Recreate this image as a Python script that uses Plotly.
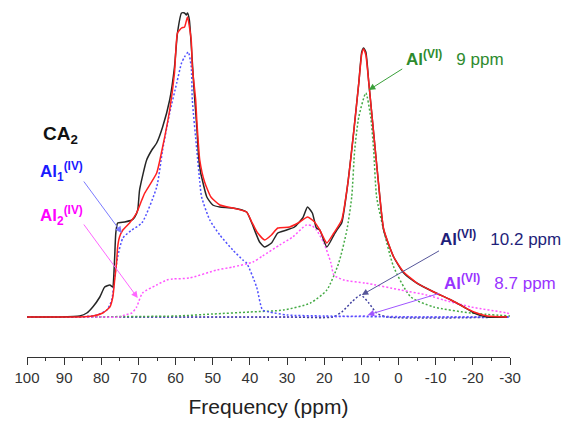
import plotly.graph_objects as go

# ---------------- data (ppm, intensity in arbitrary units) ----------------
exp_ppm = [100, 91.2, 85.8, 83.9, 82.3, 80.4, 79.1, 77.7, 76.9, 76.7, 76.4, 76.1, 75.6, 73.7, 71.8, 71.0,
           70.2, 69.7, 67.8, 66.4, 65.1, 63.5, 61.6, 60.3, 59.5, 58.4, 57.6, 57.1, 56.8, 56.3, 55.5, 55.0,
           54.3, 53.8, 53.3, 53.0, 51.6, 50.0, 48.1, 44.6, 40.9, 39.5, 37.4, 36.0, 34.2, 32.5, 30.1, 28.0,
           25.8, 24.5, 23.2, 22.1, 21.2, 19.3, 17.4, 16.6, 15.3, 13.6, 12.1, 10.7, 9.9, 9.4, 8.8, 8.0,
           6.7, 5.4, 4.0, 1.3, -1.4, -4.9, -9.5, -14.1, -17.6, -20.3, -23.8, -29.2]
exp_int = [0, 0, 1, 4, 10, 20, 30, 32, 30, 37, 60, 84, 94, 95, 97, 100,
           107, 127, 157, 167, 174, 190, 217, 250, 284, 304, 304, 302, 304, 297, 255, 225,
           190, 160, 145, 140, 120, 112, 110, 109, 105, 94, 75, 70, 74, 84, 87, 90,
           99, 110, 104, 89, 87, 70, 82, 87, 94, 135, 184, 234, 265, 269, 265, 234,
           184, 134, 87, 60, 44, 34, 25, 17, 10, 4, 0, 0]

fit_ppm = [100, 85.8, 82.3, 79.6, 77.7, 76.9, 76.4, 75.9, 75.6, 75.1, 74.2, 72.4, 70.5, 69.1, 68.3,
           65.1, 63.5, 61.6, 60.3, 59.5, 58.4, 57.6, 56.8, 55.8, 55.5, 54.6, 54.3, 53.5, 52.2, 50.5,
           48.1, 44.6, 40.9, 39.5, 37.9, 36.0, 34.2, 32.5, 29.3, 26.6, 24.5, 22.6, 21.2, 19.3, 17.4,
           15.3, 13.6, 12.1, 10.7, 9.9, 9.4, 8.8, 8.0, 6.7, 5.4, 4.0, 1.3, -1.4, -4.9, -9.5, -14.1,
           -17.6, -20.3, -23.8, -29.2]
fit_int = [0, 0, 1, 4, 10, 20, 37, 54, 70, 80, 87, 94, 104, 117, 124,
           144, 170, 207, 244, 284, 289, 290, 300, 277, 250, 217, 197, 157, 135, 120,
           112, 109, 105, 95, 84, 77, 82, 89, 90, 95, 100, 95, 87, 74, 84,
           97, 135, 184, 234, 263, 268, 262, 234, 184, 134, 88, 60, 45, 34, 25, 17,
           10, 5, 1, 0]

al1_ppm = [100, 85.8, 81.2, 78.5, 77.2, 76.4, 75.6, 74.2, 71.8, 69.1, 65.1, 63.5, 61.6, 59.7, 58.4,
           57.6, 56.6, 55.8, 55.5, 54.3, 53.5, 53.0, 50.8, 48.1, 44.6, 41.9, 40.9, 38.2, 36.6, 34.7,
           30, 20, 0, -30]
al1_int = [0, 0, 2, 7, 17, 40, 60, 79, 87, 94, 130, 167, 204, 234, 254,
           260, 265, 250, 217, 167, 135, 120, 97, 82, 67, 57, 54, 30, 7, 5,
           2, 1, 0, 0]

al2_ppm = [100, 80, 75.1, 73.7, 71.8, 70.5, 68.9, 65.1, 62.4, 60.8, 56.3, 48.9, 44.6, 39.2, 36.6,
           32.0, 28.5, 24.8, 23.2, 22.1, 20.1, 18.2, 17.4, 14.7, 9.0, -0.6, -7.6, -12.2, -19.5, -29.2,
           -30]
al2_int = [0, 0, 0, 2, 4, 10, 24, 32, 37, 38, 39, 47, 50, 55, 61,
           72, 80, 92, 91, 87, 74, 54, 42, 37, 34, 27, 22, 17, 10, 4,
           3]

vi9_ppm = [100, 60, 50, 40, 30.9, 23.7, 19.3, 16.1, 13.9, 12.6, 11.8, 10.7, 8.8, 7.5, 6.7,
           5.9, 4.0, 1.3, -3.3, -9.5, -19.5, -30]
vi9_int = [0, 1, 3, 5, 7, 14, 27, 54, 87, 120, 167, 200, 224, 200, 167,
           120, 87, 50, 20, 10, 4, 1]

vi10_ppm = [100, 30, 17.7, 15.3, 12.6, 10.2, 8.0, 5.9, 3.2, -30]
vi10_int = [0, 0, 0, 5, 15, 22, 14, 4, 0, 0]

vi87_ppm = [100, 20, 8.7, -5, -30]
vi87_int = [0, 0, 1, 0, 0]

x_ticks = [100, 90, 80, 70, 60, 50, 40, 30, 20, 10, 0, -10, -20, -30]

FONT = "Liberation Sans, Arial, sans-serif"

fig = go.Figure()

dotted = "2px,2px"
for xs, ys, col in [
    (vi87_ppm, vi87_int, "#a070ff"),
    (vi10_ppm, vi10_int, "#4040a0"),
    (vi9_ppm, vi9_int, "#44aa44"),
    (al2_ppm, al2_int, "#ff55ff"),
    (al1_ppm, al1_int, "#5050ff"),
]:
    fig.add_trace(go.Scatter(x=xs, y=ys, mode="lines",
                             line=dict(color=col, width=1.5, dash=dotted, shape="spline", smoothing=0.6),
                             showlegend=False, hoverinfo="skip"))

fig.add_trace(go.Scatter(x=exp_ppm, y=exp_int, mode="lines",
                         line=dict(color="#262626", width=1.5, shape="spline", smoothing=0.5),
                         showlegend=False))
fig.add_trace(go.Scatter(x=fit_ppm, y=fit_int, mode="lines",
                         line=dict(color="#ff2020", width=1.5, shape="spline", smoothing=0.5),
                         showlegend=False))

NB = "\u00a0"
texts = [
    ("<b>CA<sub>2</sub></b>", 96.3, 182, "#111111", 19),
    ("<b>Al<sub>1</sub><sup>(IV)</sup></b>", 97.1, 146, "#1a1aff", 17),
    ("<b>Al<sub>2</sub><sup>(IV)</sup></b>", 97.1, 102, "#ff00ff", 17),
    ("<b>Al<sup>(VI)</sup></b>" + NB * 2 + " 9 ppm", -1.4, 259, "#2e8b2e", 17),
    ("<b>Al<sup>(VI)</sup></b>" + NB * 2 + " 10.2 ppm", -10.7, 79, "#1f1f7a", 17),
    ("<b>Al<sup>(VI)</sup></b>" + NB * 2 + " 8.7 ppm", -11.8, 35, "#9933ff", 17),
]
for t, x, y, c, s in texts:
    fig.add_annotation(text=t, x=x, y=y, xref="x", yref="y", showarrow=False,
                       xanchor="left", yanchor="middle",
                       font=dict(family=FONT, size=s, color=c))

arrows = [
    (74.5, 84, 85.0, 137, "#7b7bff"),
    (70.2, 19, 85.0, 94, "#ff66ff"),
    (8.0, 227, -1.4, 249, "#3aa03a"),
    (9.9, 22, -11.3, 67, "#555599"),
    (8.3, 2, -11.3, 24, "#a055ff"),
]
for hx, hy, tx, ty, c in arrows:
    fig.add_annotation(text="", x=hx, y=hy, ax=tx, ay=ty, xref="x", yref="y",
                       axref="x", ayref="y", showarrow=True, arrowhead=2,
                       arrowsize=1.3, arrowwidth=1, arrowcolor=c,
                       standoff=0, startstandoff=0)

fig.update_layout(
    width=568, height=425,
    margin=dict(l=27, r=58, t=5, b=68),
    paper_bgcolor="white", plot_bgcolor="white",
    font=dict(family=FONT),
    showlegend=False,
)
fig.update_xaxes(
    range=[100, -30], tickvals=x_ticks, ticktext=[str(v) for v in x_ticks],
    showgrid=False, zeroline=False, showline=True, linecolor="#333333", linewidth=1,
    ticks="outside", ticklen=7, tickwidth=1, tickcolor="#333333",
    tickfont=dict(family=FONT, size=15, color="#333333"),
    minor=dict(dtick=5, tick0=0, ticks="outside", ticklen=3, tickcolor="#333333", tickwidth=1),
    title=dict(text="Frequency (ppm)", font=dict(family=FONT, size=21, color="#222222"), standoff=14),
)
fig.update_yaxes(range=[-40, 312], visible=False)

fig.write_html("out.html", config={"displayModeBar": False},
               post_script="document.body.style.margin='0';document.body.style.padding='0';")
